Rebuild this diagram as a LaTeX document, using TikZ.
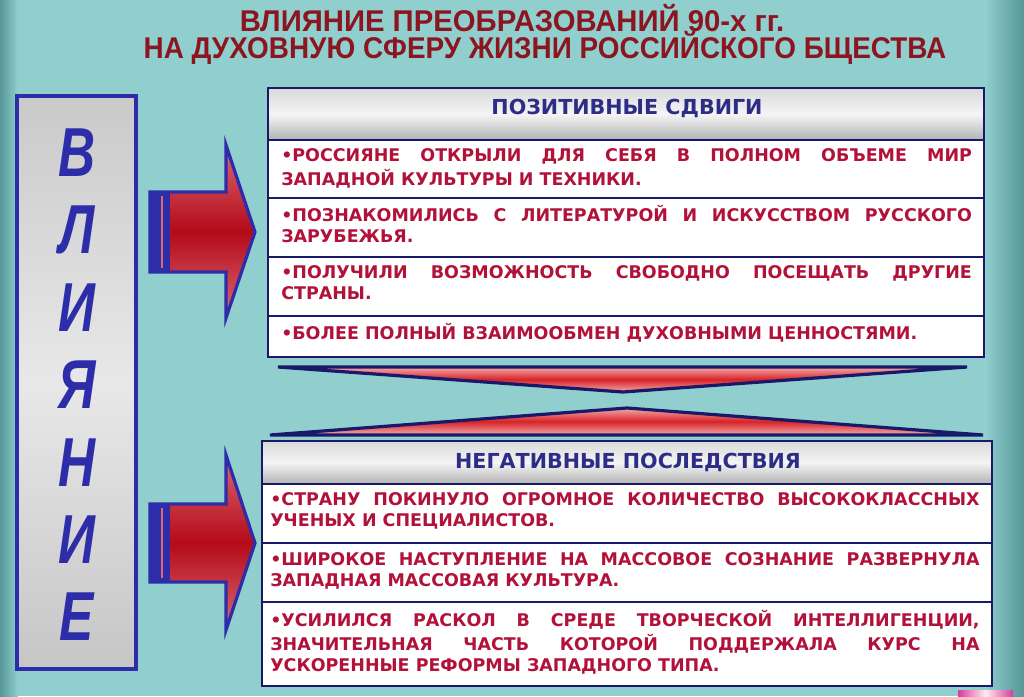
\documentclass[tikz,border=0pt]{standalone}
\usepackage{fontspec}
\setmainfont{DejaVu Sans}
\newfontfamily\titlefont[FakeStretch=0.93]{Liberation Sans}
\newfontfamily\letterfont[FakeStretch=0.74]{Liberation Sans}
\definecolor{bg}{RGB}{145,207,207}
\definecolor{bgdark}{RGB}{85,150,150}
\definecolor{titlered}{RGB}{140,22,32}
\definecolor{bodyred}{RGB}{178,18,58}
\definecolor{navy}{RGB}{25,25,105}
\definecolor{hblue}{RGB}{45,45,135}
\definecolor{lblue}{RGB}{45,45,170}
\definecolor{arrowdark}{RGB}{180,10,25}
\definecolor{arrowlight}{RGB}{220,105,115}
\definecolor{tripink}{RGB}{245,170,170}
\definecolor{trired}{RGB}{215,35,40}
\definecolor{btnpink}{RGB}{215,60,160}
\tikzset{
  titlestyle/.style={inner sep=0pt, text=titlered, font=\titlefont\bfseries\fontsize{22.5}{25}\selectfont},
  letterstyle/.style={inner sep=0pt, text=lblue, font=\letterfont\bfseries\itshape\fontsize{52}{52}\selectfont},
  arrowbox/.style={draw=lblue, line width=2.4pt, line join=miter, top color=arrowlight, bottom color=arrowlight, middle color=arrowdark},
  tri/.style={draw=navy, line width=2.4pt, line join=miter, top color=tripink, bottom color=tripink, middle color=trired},
  boxline/.style={draw=navy, line width=2.2pt},
  headbox/.style={boxline, top color=gray!30, bottom color=gray!60, middle color=white!92!gray},
  headtext/.style={inner sep=0pt, text=hblue, font=\bfseries\fontsize{15.5}{18}\selectfont},
  bodytext/.style={anchor=north west, inner sep=0pt, text=bodyred, align=justify, font=\bfseries\fontsize{13.1}{15.8}\selectfont}
}
\begin{document}
\begin{tikzpicture}[x=0.75pt,y=-0.75pt]
\useasboundingbox (0,0) rectangle (1024,696);
% background
\fill[bg] (0,0) rectangle (1024,696);
\shade[left color=bgdark, right color=bg] (0,0) rectangle (18,696);
\shade[left color=bg, right color=bgdark] (985,0) rectangle (1024,696);
% title
\node[titlestyle] (t1) at (512,18) {\scalebox{1.05}[1]{ВЛИЯНИЕ ПРЕОБРАЗОВАНИЙ 90-х гг.}};
\node[titlestyle] (t2) at (545,48) {НА ДУХОВНУЮ СФЕРУ ЖИЗНИ РОССИЙСКОГО БЩЕСТВА};
% left vertical box
\draw[line width=2.4pt, draw=lblue, top color=gray!42, bottom color=gray!45, middle color=gray!18] (17,96) rectangle (136,669);
\foreach \l [count=\i from 0] in {В,Л,И,Я,Н,И,Е}{
  \node[letterstyle] (l\i) at (77,153+77.3*\i) {\l};
}
% arrows
\draw[arrowbox] (150,192) -- (226,192) -- (226,145) -- (255,232) -- (226,318) -- (226,272) -- (150,272) -- cycle;
\fill[lblue] (149,191) rectangle (170,273);
\draw[arrowlight, line width=1.5pt] (162,196) -- (162,268);
\draw[arrowbox] (150,504) -- (226,504) -- (226,455) -- (255,543) -- (226,630) -- (226,582) -- (150,582) -- cycle;
\fill[lblue] (149,503) rectangle (170,583);
\draw[arrowlight, line width=1.5pt] (162,508) -- (162,578);
% triangles between boxes
\draw[tri] (278,367) -- (967,367) -- (623,392) -- cycle;
\draw[tri] (270,435) -- (983,435) -- (627,408) -- cycle;
% positive box
\draw[headbox] (268,88) rectangle (984,140);
\draw[boxline, fill=white] (268,140) rectangle (984,198);
\draw[boxline, fill=white] (268,198) rectangle (984,257);
\draw[boxline, fill=white] (268,257) rectangle (984,316);
\draw[boxline, fill=white] (268,316) rectangle (984,357);
\node[headtext] (ph) at (627,108) {ПОЗИТИВНЫЕ СДВИГИ};
\node[bodytext, text width=518pt] (p1) at (281,146.2) {\strut•РОССИЯНЕ ОТКРЫЛИ ДЛЯ СЕБЯ В ПОЛНОМ ОБЪЕМЕ МИР\linebreak ЗАПАДНОЙ КУЛЬТУРЫ И ТЕХНИКИ.};
\node[bodytext, text width=518pt] (p2) at (281,205.2) {\strut•ПОЗНАКОМИЛИСЬ С ЛИТЕРАТУРОЙ И ИСКУССТВОМ РУССКОГО\linebreak ЗАРУБЕЖЬЯ.};
\node[bodytext, text width=518pt] (p3) at (281,263.2) {\strut•ПОЛУЧИЛИ ВОЗМОЖНОСТЬ СВОБОДНО ПОСЕЩАТЬ ДРУГИЕ\linebreak СТРАНЫ.};
\node[bodytext, text width=518pt] (p4) at (281,323.2) {\strut•БОЛЕЕ ПОЛНЫЙ ВЗАИМООБМЕН ДУХОВНЫМИ ЦЕННОСТЯМИ.};
% negative box
\draw[headbox] (262,441) rectangle (992,484);
\draw[boxline, fill=white] (262,484) rectangle (992,543);
\draw[boxline, fill=white] (262,543) rectangle (992,602);
\draw[boxline, fill=white] (262,602) rectangle (992,686);
\node[headtext] (nh) at (628,462) {НЕГАТИВНЫЕ ПОСЛЕДСТВИЯ};
\node[bodytext, text width=532pt] (n1) at (270,490.2) {\strut•СТРАНУ ПОКИНУЛО ОГРОМНОЕ КОЛИЧЕСТВО ВЫСОКОКЛАССНЫХ\linebreak УЧЕНЫХ И СПЕЦИАЛИСТОВ.};
\node[bodytext, text width=532pt] (n2) at (270,550.2) {\strut•ШИРОКОЕ НАСТУПЛЕНИЕ НА МАССОВОЕ СОЗНАНИЕ РАЗВЕРНУЛА\linebreak ЗАПАДНАЯ МАССОВАЯ КУЛЬТУРА.};
\node[bodytext, text width=532pt] (n3) at (270,610.2) {\strut•УСИЛИЛСЯ РАСКОЛ В СРЕДЕ ТВОРЧЕСКОЙ ИНТЕЛЛИГЕНЦИИ,\linebreak ЗНАЧИТЕЛЬНАЯ ЧАСТЬ КОТОРОЙ ПОДДЕРЖАЛА КУРС НА\linebreak УСКОРЕННЫЕ РЕФОРМЫ ЗАПАДНОГО ТИПА.};
% small button at bottom right
\shade[left color=btnpink, right color=btnpink, middle color=white!70!pink] (958,690) rectangle (1013,696);
\end{tikzpicture}
\end{document}
